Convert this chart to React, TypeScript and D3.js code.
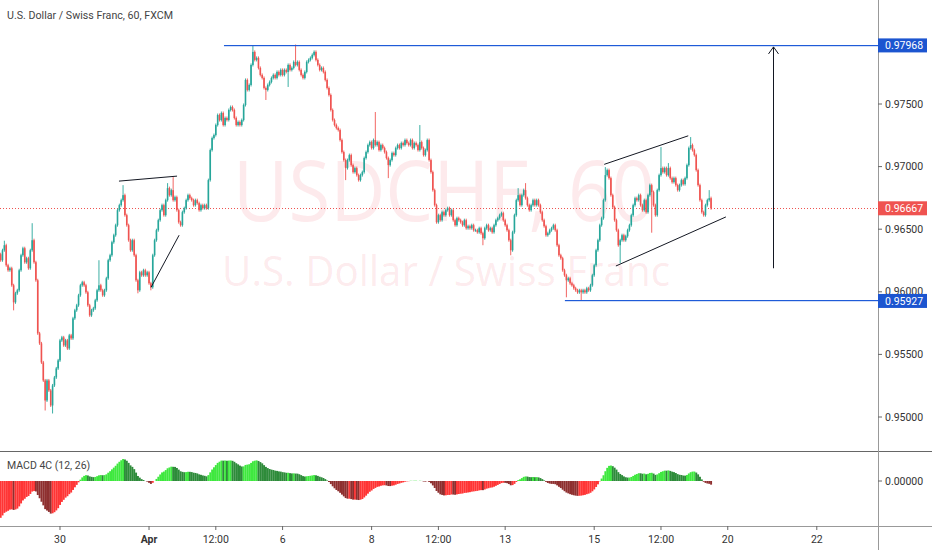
import React, { useEffect, useRef } from "react";
import * as d3 from "d3";

// hourly closes, one small array per trading day
const mar26 = [0.96252, 0.96332, 0.96372, 0.96212, 0.96172, 0.96188, 0.96052, 0.95916];
const mar27 = [
	0.95988, 0.96012, 0.96172, 0.96292, 0.96348, 0.96236, 0.96268, 0.96188, 0.96332, 0.96412, 0.96236, 0.96092,
	0.95668, 0.95588, 0.95436, 0.95292, 0.95132, 0.95292, 0.95212, 0.95092, 0.95252, 0.95316, 0.95388, 0.95452,
];
const mar30 = [
	0.95612, 0.95636, 0.95572, 0.95612, 0.95548, 0.95652, 0.95628, 0.95788, 0.95852, 0.95892, 0.95972, 0.96052,
	0.96076, 0.96052, 0.95996, 0.95892, 0.95812, 0.95852, 0.95868, 0.95932, 0.96012, 0.96052, 0.96012, 0.95972,
];
const mar31 = [
	0.96012, 0.96108, 0.96252, 0.96292, 0.96396, 0.96452, 0.96532, 0.96652, 0.96692, 0.96732, 0.96772, 0.96612,
	0.96532, 0.96412, 0.96332, 0.96412, 0.96292, 0.96092, 0.96012, 0.96156, 0.96132, 0.96172, 0.96132, 0.96156,
];
const apr1 = [
	0.96068, 0.96036, 0.96292, 0.96412, 0.96492, 0.96572, 0.96652, 0.96692, 0.96612, 0.96732, 0.96828, 0.96772,
	0.96812, 0.96732, 0.96756, 0.96652, 0.96556, 0.96532, 0.96636, 0.96668, 0.96732, 0.96772, 0.96748, 0.96732,
];
const apr2 = [
	0.96692, 0.96732, 0.96708, 0.96652, 0.96692, 0.96668, 0.96692, 0.96668, 0.96892, 0.97132, 0.97228, 0.97252,
	0.97332, 0.97412, 0.97372, 0.97428, 0.97332, 0.97388, 0.97372, 0.97452, 0.97476, 0.97452, 0.97388, 0.97332,
];
const apr3 = [
	0.97356, 0.97332, 0.97372, 0.97492, 0.97692, 0.97612, 0.97652, 0.97812, 0.97916, 0.97852, 0.97868, 0.97788,
	0.97732, 0.97708, 0.97628, 0.97612, 0.97652, 0.97676, 0.97708, 0.97732, 0.97708, 0.97756, 0.97732, 0.97772,
];
const apr6 = [
	0.97732, 0.97772, 0.97756, 0.97812, 0.97772, 0.97788, 0.97836, 0.97812, 0.97836, 0.97772, 0.97732, 0.97708,
	0.97756, 0.97836, 0.97852, 0.97868, 0.97892, 0.97916, 0.97852, 0.97812, 0.97772, 0.97788, 0.97756, 0.97692,
];
const apr7 = [
	0.97628, 0.97572, 0.97452, 0.97372, 0.97332, 0.97308, 0.97292, 0.97212, 0.97116, 0.97052, 0.96988, 0.97052,
	0.97092, 0.97012, 0.96956, 0.96988, 0.96932, 0.96892, 0.96932, 0.96956, 0.97068, 0.97116, 0.97172, 0.97196,
];
const apr8 = [
	0.97148, 0.97212, 0.97172, 0.97196, 0.97132, 0.97172, 0.97148, 0.97116, 0.97068, 0.97012, 0.97052, 0.97108,
	0.97092, 0.97148, 0.97172, 0.97148, 0.97188, 0.97172, 0.97212, 0.97188, 0.97172, 0.97212, 0.97148, 0.97188,
];
const apr9 = [
	0.97172, 0.97132, 0.97196, 0.97148, 0.97092, 0.97132, 0.97212, 0.97052, 0.96956, 0.96812, 0.96692, 0.96556,
	0.96612, 0.96572, 0.96636, 0.96612, 0.96652, 0.96668, 0.96612, 0.96652, 0.96572, 0.96532, 0.96588, 0.96572,
];
const apr10 = [
	0.96556, 0.96532, 0.96572, 0.96508, 0.96524, 0.96508, 0.96532, 0.96492, 0.96492, 0.96476, 0.96508, 0.96468,
	0.96428, 0.96508, 0.96532, 0.96492, 0.96508, 0.96476, 0.96532, 0.96572, 0.96588, 0.96612, 0.96628, 0.96572,
];
const apr13 = [
	0.96532, 0.96492, 0.96412, 0.96332, 0.96476, 0.96612, 0.96732, 0.96772, 0.96692, 0.96772, 0.96812, 0.96748,
	0.96692, 0.96652, 0.96692, 0.96732, 0.96692, 0.96732, 0.96692, 0.96636, 0.96572, 0.96524, 0.96452, 0.96468,
];
const apr14 = [
	0.96492, 0.96508, 0.96532, 0.96492, 0.96372, 0.96292, 0.96268, 0.96172, 0.96132, 0.96092, 0.96108, 0.96068,
	0.96052, 0.96028, 0.96012, 0.95996, 0.96012, 0.95996, 0.96012, 0.95996, 0.96028, 0.96012, 0.96052, 0.96132,
];
const apr15 = [
	0.96212, 0.96332, 0.96412, 0.96532, 0.96588, 0.96732, 0.96932, 0.96972, 0.96908, 0.96772, 0.96676, 0.96572,
	0.96492, 0.96372, 0.96412, 0.96452, 0.96412, 0.96444, 0.96492, 0.96532, 0.96612, 0.96692, 0.96748, 0.96732,
];
const apr16 = [
	0.96772, 0.96692, 0.96652, 0.96732, 0.96636, 0.96772, 0.96852, 0.96796, 0.96692, 0.96612, 0.96812, 0.96932,
	0.96988, 0.96956, 0.96988, 0.96932, 0.96988, 0.96908, 0.96876, 0.96908, 0.96852, 0.96812, 0.96852, 0.96892,
];
const apr17 = [
	0.9686, 0.96908, 0.97012, 0.97148, 0.97172, 0.97132, 0.97092, 0.96972, 0.96852, 0.96732, 0.96636, 0.96612,
	0.96692, 0.96732, 0.96748, 0.96667,
];

const closes = [
	...mar26, ...mar27, ...mar30, ...mar31, ...apr1, ...apr2, ...apr3, ...apr6, ...apr7,
	...apr8, ...apr9, ...apr10, ...apr13, ...apr14, ...apr15, ...apr16, ...apr17,
];
const firstOpen = 0.963;

// long wicks worth noting: [bar index, price]
const spikeHighs: [number, number][] = [
	[2, 0.96408], [17, 0.96548], [53, 0.96252], [66, 0.96852], [90, 0.96868], [93, 0.96916],
	[136, 0.97968], [159, 0.97975], [202, 0.97436], [226, 0.97332], [279, 0.96828], [283, 0.96868],
	[326, 0.96996], [356, 0.97156], [360, 0.97028], [372, 0.97236], [382, 0.96812],
];
const spikeLows: [number, number][] = [
	[7, 0.95852], [24, 0.95052], [28, 0.95028], [74, 0.95988], [81, 0.96012], [143, 0.97532],
	[155, 0.97636], [186, 0.96892], [209, 0.96908], [260, 0.96372], [275, 0.96292], [305, 0.95956],
	[313, 0.95927], [334, 0.96228], [351, 0.96472],
];
const wickPad = 0.00012;

const priceTicks = [0.95, 0.955, 0.96, 0.965, 0.97, 0.975];
const timeTicks: [number, string][] = [
	[32, "30"], [80, "Apr"], [116, "12:00"], [152, "6"], [200, "8"], [236, "12:00"],
	[272, "13"], [320, "15"], [356, "12:00"], [392, "20"], [440, "22"],
];

const levelHigh = 0.97968;
const levelHighFrom = 120.4;
const levelLow = 0.95927;
const levelLowFrom = 304.2;
const lastPrice = 0.96667;

// drawn trend lines: [index0, price0, index1, price1]
const trendLines: [number, number, number, number][] = [
	[63.8, 0.96884, 95.1, 0.96924],
	[81.1, 0.96036, 96.2, 0.96452],
	[325.4, 0.97018, 370.7, 0.97246],
	[331.7, 0.96206, 391.0, 0.96598],
];
const arrow = { index: 416.4, from: 0.96188, to: 0.97956 };

// EMA state carried in from before the first visible bar
const macdSeed = [0.964, 0.968];

const W = 932;
const H = 550;
const axisX = 878;
const mainBottom = 451;
const macdBottom = 526;
const zeroY = 481;
const levelBlue = "#1f5bd8";
const font = "Roboto, 'Liberation Sans', sans-serif";

export default function App() {
	const svgRef = useRef<SVGSVGElement | null>(null);

	useEffect(() => {
		document.body.style.margin = "0";
		if (!svgRef.current) return;
		const svg = d3.select(svgRef.current);
		svg.selectAll("*").remove();

		const x = d3.scaleLinear().domain([0, 473]).range([0.64, axisX]);
		const y = d3.scaleLinear().domain([0.95, 0.975]).range([417, 104]);
		const crisp = (v: number) => Math.round(v) + 0.5;

		const defs = svg.append("defs");
		defs.append("clipPath").attr("id", "mainClip").append("rect").attr("x", 0).attr("y", 0).attr("width", axisX).attr("height", mainBottom);
		defs.append("clipPath").attr("id", "macdClip").append("rect").attr("x", 0).attr("y", mainBottom).attr("width", axisX).attr("height", macdBottom - mainBottom);

		svg.append("rect").attr("width", W).attr("height", H).attr("fill", "#fff");

		// watermark
		const wm = svg.append("g").attr("fill", "rgba(240, 60, 80, 0.11)").attr("font-family", "'Open Sans', sans-serif").attr("text-anchor", "middle");
		wm.append("text").attr("x", 444).attr("y", 221).attr("font-size", 84).attr("textLength", 422).attr("lengthAdjust", "spacingAndGlyphs").text("USDCHF, 60");
		wm.append("text").attr("x", 446).attr("y", 286).attr("font-size", 42).attr("textLength", 448).attr("lengthAdjust", "spacingAndGlyphs").text("U.S. Dollar / Swiss Franc");

		const main = svg.append("g").attr("clip-path", "url(#mainClip)");

		// last price dotted line
		main.append("line").attr("x1", 0).attr("x2", axisX).attr("y1", crisp(y(lastPrice))).attr("y2", crisp(y(lastPrice)))
			.attr("stroke", "#ef5350").attr("stroke-dasharray", "1,2");

		// candles
		const hiMap = new Map(spikeHighs);
		const loMap = new Map(spikeLows);
		const bars = closes.map((c, i) => {
			const o = i === 0 ? firstOpen : closes[i - 1];
			const h = hiMap.get(i) ?? Math.max(o, c) + wickPad;
			const l = loMap.get(i) ?? Math.min(o, c) - wickPad;
			return { i, o, c, h, l, up: c >= o };
		});
		const cg = main.append("g");
		cg.selectAll("line.wick").data(bars).enter().append("line")
			.attr("x1", (d) => x(d.i)).attr("x2", (d) => x(d.i))
			.attr("y1", (d) => y(d.h)).attr("y2", (d) => y(d.l))
			.attr("stroke", (d) => (d.up ? "#26a69a" : "#ef5350")).attr("stroke-width", 0.9);
		cg.selectAll("rect.body").data(bars).enter().append("rect")
			.attr("x", (d) => x(d.i) - 0.8).attr("width", 1.6)
			.attr("y", (d) => y(Math.max(d.o, d.c)))
			.attr("height", (d) => Math.max(1, Math.abs(y(d.o) - y(d.c))))
			.attr("fill", (d) => (d.up ? "#26a69a" : "#ef5350"));

		// levels, drawn as 1px filled strips
		const levels = svg.append("g").attr("fill", levelBlue);
		levels.append("rect").attr("x", x(levelHighFrom)).attr("width", axisX - x(levelHighFrom)).attr("y", Math.floor(y(levelHigh))).attr("height", 1.2);
		levels.append("rect").attr("x", x(levelLowFrom)).attr("width", axisX - x(levelLowFrom)).attr("y", Math.floor(y(levelLow))).attr("height", 1.2);

		// trend lines
		main.selectAll("line.trend").data(trendLines).enter().append("line")
			.attr("x1", (d) => x(d[0])).attr("y1", (d) => y(d[1]))
			.attr("x2", (d) => x(d[2])).attr("y2", (d) => y(d[3]))
			.attr("stroke", "#131722").attr("stroke-width", 1);

		// arrow
		const ax = crisp(x(arrow.index));
		const ay = y(arrow.to);
		main.append("line").attr("x1", ax).attr("x2", ax).attr("y1", y(arrow.from)).attr("y2", ay).attr("stroke", "#131722");
		main.append("path").attr("d", `M${ax - 5},${ay + 7}L${ax},${ay}L${ax + 5},${ay + 7}`).attr("fill", "none").attr("stroke", "#131722");

		// MACD 4C
		const k12 = 2 / 13;
		const k26 = 2 / 27;
		let e12 = macdSeed[0];
		let e26 = macdSeed[1];
		const macd = closes.map((c) => {
			e12 = c * k12 + e12 * (1 - k12);
			e26 = c * k26 + e26 * (1 - k26);
			return e12 - e26;
		});
		const mMax = d3.max(macd) as number;
		const my = d3.scaleLinear().domain([0, mMax]).range([zeroY, zeroY - 22]);
		const macdColor = (v: number, prev: number) => {
			if (v >= 0) return v >= prev ? "#3fe83f" : "#2e8b3a";
			return v < prev ? "#8e2f2f" : "#ff3535";
		};
		svg.append("g").attr("clip-path", "url(#macdClip)").selectAll("rect").data(macd).enter().append("rect")
			.attr("x", (_, i) => x(i) - 0.95).attr("width", 1.95)
			.attr("y", (v) => Math.min(my(v), zeroY))
			.attr("height", (v) => Math.abs(my(v) - zeroY))
			.attr("fill", (v, i) => macdColor(v, i === 0 ? v : macd[i - 1]));

		// frame lines
		svg.append("line").attr("x1", 0).attr("x2", W).attr("y1", mainBottom + 0.5).attr("y2", mainBottom + 0.5).attr("stroke", "#666");
		svg.append("line").attr("x1", 0).attr("x2", W).attr("y1", macdBottom + 0.5).attr("y2", macdBottom + 0.5).attr("stroke", "#999");
		svg.append("line").attr("x1", axisX + 0.5).attr("x2", axisX + 0.5).attr("y1", 0).attr("y2", H).attr("stroke", "#999");

		// price axis
		const pa = svg.append("g").attr("font-family", font).attr("font-size", 10.5).attr("fill", "#333");
		priceTicks.forEach((p) => {
			pa.append("line").attr("x1", axisX).attr("x2", axisX + 4).attr("y1", y(p)).attr("y2", y(p)).attr("stroke", "#666");
			pa.append("text").attr("x", 885).attr("y", y(p)).attr("dy", "0.35em").text(d3.format(".5f")(p));
		});
		pa.append("line").attr("x1", axisX).attr("x2", axisX + 4).attr("y1", zeroY).attr("y2", zeroY).attr("stroke", "#666");
		pa.append("text").attr("x", 885).attr("y", zeroY).attr("dy", "0.35em").text("0.00000");

		const tag = (p: number, color: string) => {
			pa.append("rect").attr("x", axisX).attr("y", y(p) - 7).attr("width", 49).attr("height", 14).attr("fill", color);
			pa.append("text").attr("x", 885).attr("y", y(p)).attr("dy", "0.35em").attr("fill", "#fff").text(d3.format(".5f")(p));
		};
		tag(levelHigh, "#1c55d0");
		tag(lastPrice, "#ef5350");
		tag(levelLow, "#1c55d0");

		// time axis
		const ta = svg.append("g").attr("font-family", font).attr("font-size", 10.5).attr("fill", "#333").attr("text-anchor", "middle");
		timeTicks.forEach(([i, label]) => {
			ta.append("line").attr("x1", x(i)).attr("x2", x(i)).attr("y1", macdBottom).attr("y2", macdBottom + 4).attr("stroke", "#666");
			ta.append("text").attr("x", x(i)).attr("y", 543).attr("font-weight", label === "Apr" ? "bold" : "normal").text(label);
		});

		// titles
		svg.append("text").attr("x", 7).attr("y", 18.5).attr("font-family", font).attr("font-size", 10.5).attr("fill", "#444")
			.attr("textLength", 166).attr("lengthAdjust", "spacingAndGlyphs").text("U.S. Dollar / Swiss Franc, 60, FXCM");
		svg.append("text").attr("x", 7).attr("y", 469).attr("font-family", font).attr("font-size", 10.5).attr("fill", "#444")
			.text("MACD 4C (12, 26)");
	}, []);

	return <svg ref={svgRef} width={W} height={H} style={{ position: "absolute", left: 0, top: 0 }} />;
}
